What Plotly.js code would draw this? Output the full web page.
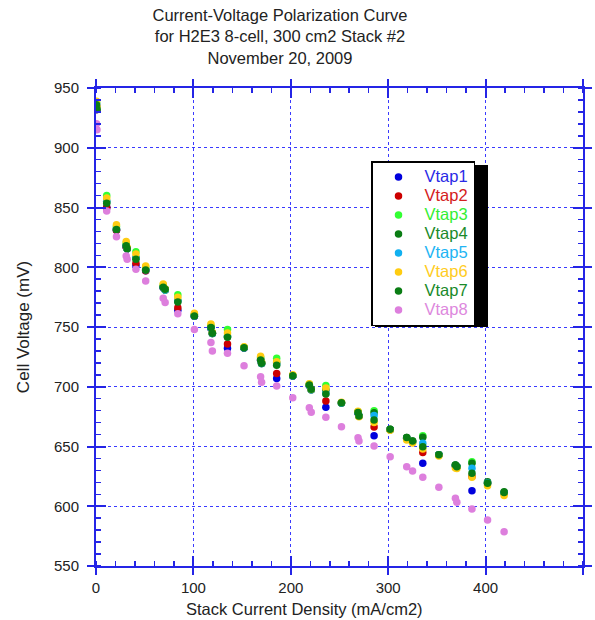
<!DOCTYPE html>
<html>
<head>
<meta charset="utf-8">
<script src="https://cdn.plot.ly/plotly-3.0.1.min.js"></script>
<style>html,body{margin:0;padding:0;background:#fff;}#chart{width:595px;height:620px;}</style>
</head>
<body>
<div id="chart"></div>
<script>
// Stack current density (mA/cm2)
const currentDensity = [0.5, 1, 11, 21, 31, 32, 41, 51, 69, 71, 84, 101, 118, 119.5, 135, 152, 169, 170, 185.5, 202, 219, 221, 236, 252, 269, 270, 285.5, 302, 319, 325, 335.5, 352, 369, 370.5, 386, 402, 419];

// Cell voltages (mV)
const vtap1 = [935, 932, 850, 831, 817, 815.5, 801.5, 797, 783, 781, 764, 759, 749, 744.5, 732.2, 732.5, 722, 719.5, 707, 709, 701, 697.5, 682.8, 686.5, 678, 675.5, 659, 664, 657, 654, 636, 643, 634, 633, 613, 619.5, 611];
const vtap2 = [935, 932, 850, 831, 817, 815.5, 803.3, 797, 783, 781, 766.2, 759, 749, 744.5, 735.8, 732.5, 722, 719.5, 711, 709, 701, 697.5, 688, 686.5, 678, 675.5, 666.3, 664, 657, 654, 645, 643, 634, 633, 625, 619.5, 611];
const vtap3 = [938, 933, 860, 834, 820, 815.5, 813, 800, 785, 781, 777, 760.5, 751, 744.5, 748, 733, 724.5, 719.5, 723.8, 709.5, 702, 697.5, 701, 686.5, 679, 675.5, 680, 664, 657, 654, 659, 643, 634, 633, 637.3, 619.5, 611];
const vtap4 = [937, 933, 855, 832, 818, 816, 808, 798, 783.5, 781.5, 772, 760, 750, 745, 742, 732.7, 723, 720, 720, 709.3, 701.5, 698, 697.3, 686.7, 678.6, 675.5, 678.3, 664.4, 657.5, 654.6, 657.7, 643, 634.5, 633, 636, 620.6, 612.2];
const vtap5 = [936, 933, 855, 832, 818, 815.5, 808, 798, 783, 781, 772, 759, 749, 744.5, 742, 732.5, 722, 719.5, 719, 709, 701, 697.5, 694.5, 686.5, 678, 675.5, 676, 664, 657, 654, 652.7, 643, 634, 633, 631.8, 619.5, 611];
const vtap6 = [939, 934, 858, 835.5, 821.5, 816.5, 811, 801, 786, 782, 775, 761.5, 752.5, 745.5, 745, 733.5, 725.5, 720.5, 721, 710, 702.5, 698, 699, 687, 679.5, 675, 670, 663.5, 655.5, 653, 648, 642, 632, 631.5, 624.2, 617.2, 609];
const vtap7 = [936, 932, 853.5, 831.5, 818, 815.5, 806.6, 797.7, 783.2, 781.5, 771, 759.2, 749.5, 744.8, 741.5, 732.7, 722.4, 719.6, 718, 709.3, 701.5, 697.9, 694, 686.7, 678.4, 675.5, 672.2, 664.4, 657.5, 654.6, 649.8, 643, 634.5, 633, 627.6, 619.2, 611.5];
const vtap8 = [920, 915, 847, 825.5, 809.5, 806.7, 798.3, 788.5, 774, 770.4, 761, 748, 737, 730, 728, 717.6, 708.4, 703.7, 700.6, 690.8, 682.5, 678.6, 674.4, 666.6, 657.3, 654.6, 650.4, 641.5, 633, 629.5, 624.2, 615.8, 606.7, 603.3, 597.7, 588.5, 578.7];

const seriesNames = ['Vtap1', 'Vtap2', 'Vtap3', 'Vtap4', 'Vtap5', 'Vtap6', 'Vtap7', 'Vtap8'];
const seriesValues = [vtap1, vtap2, vtap3, vtap4, vtap5, vtap6, vtap7, vtap8];
const markerColors = ['#0000dd', '#cc0000', '#33ff33', '#0a7d14', '#11b0f0', '#ffcc11', '#0a7d14', '#dd7fdd'];
const textColors = ['#2a2ae6', '#d42020', '#33ee33', '#1a8a2a', '#22b4f4', '#ffcc22', '#1a8a2a', '#dd88dd'];

const FONT = 'Liberation Sans, Arial, sans-serif';
const AX = '#2525e6';

const traces = seriesNames.map((n, i) => ({
  type: 'scatter',
  mode: 'markers',
  x: currentDensity,
  y: seriesValues[i],
  name: '<span style="color:' + textColors[i] + ';font-size:16.5px">' + n + '</span>',
  marker: {color: markerColors[i], size: 7.5},
  hoverinfo: 'x+y'
}));
// helper empty trace so the overlay axes (inner tick halves) are drawn
traces.push({type: 'scatter', mode: 'markers', x: [], y: [], xaxis: 'x2', yaxis: 'y2', showlegend: false, hoverinfo: 'skip'});

const W = 595, H = 620, L = 96, R = 12, T = 88, B = 54;
const pw = W - L - R, ph = H - T - B;
const px = v => (v - L) / pw;
const py = v => (H - B - v) / ph;

const layout = {
  width: W, height: H,
  margin: {l: L, r: R, t: T, b: B},
  paper_bgcolor: '#ffffff',
  plot_bgcolor: '#ffffff',
  font: {family: FONT, size: 15, color: '#222'},
  showlegend: true,
  title: {
    text: 'Current-Voltage Polarization Curve<br>for H2E3 8-cell, 300 cm2 Stack #2<br>November 20, 2009',
    x: 280 / W, xanchor: 'center', xref: 'container',
    y: 1 - 21 / H, yanchor: 'top', yref: 'container',
    font: {family: FONT, size: 16.5, color: '#222'}
  },
  xaxis: {
    range: [0, 500], tick0: 0, dtick: 100,
    showline: true, linecolor: AX, linewidth: 2, mirror: 'allticks',
    ticks: 'outside', ticklen: 7, tickwidth: 2, tickcolor: AX,
    showgrid: true, gridcolor: '#3a3aff', griddash: 'dot', gridwidth: 1,
    zeroline: false,
    minor: {dtick: 20, tick0: 0, ticks: 'inside', ticklen: 5, tickwidth: 1.5, tickcolor: AX, showgrid: false},
    tickfont: {family: FONT, size: 15, color: '#222'},
    ticklabelstandoff: 0,
    title: {text: ''}
  },
  yaxis: {
    range: [550, 950], tick0: 550, dtick: 50,
    showline: true, linecolor: AX, linewidth: 2, mirror: 'allticks',
    ticks: 'outside', ticklen: 7, tickwidth: 2, tickcolor: AX,
    showgrid: true, gridcolor: '#3a3aff', griddash: 'dot', gridwidth: 1,
    zeroline: false,
    minor: {dtick: 10, tick0: 550, ticks: 'inside', ticklen: 5, tickwidth: 1.5, tickcolor: AX, showgrid: false},
    tickfont: {family: FONT, size: 15, color: '#222'},
    ticklabelstandoff: 5,
    title: {text: 'Cell Voltage (mV)', font: {family: FONT, size: 17, color: '#222'}, standoff: 20}
  },
  xaxis2: {
    overlaying: 'x', anchor: 'y', range: [0, 500], tick0: 0, dtick: 100,
    ticks: 'inside', ticklen: 10, tickwidth: 2, tickcolor: AX, mirror: 'allticks',
    showline: false, showgrid: false, zeroline: false, showticklabels: false
  },
  yaxis2: {
    overlaying: 'y', anchor: 'x', range: [550, 950], tick0: 550, dtick: 50,
    ticks: 'inside', ticklen: 10, tickwidth: 2, tickcolor: AX, mirror: 'allticks',
    showline: false, showgrid: false, zeroline: false, showticklabels: false
  },
  legend: {
    x: px(371), y: py(161), xanchor: 'left', yanchor: 'top',
    bgcolor: '#ffffff', bordercolor: '#000000', borderwidth: 1.5,
    font: {family: FONT, size: 12},
    itemwidth: 42,
    tracegroupgap: 0
  },
  shapes: [{
    type: 'rect', xref: 'paper', yref: 'paper',
    x0: px(375), x1: px(488), y0: py(327), y1: py(165),
    fillcolor: '#000000', line: {width: 0}, layer: 'above'
  }],
  annotations: [{
    text: 'Stack Current Density (mA/cm2)', xref: 'paper', yref: 'paper',
    x: px(304), y: py(609), xanchor: 'center', yanchor: 'middle', showarrow: false,
    font: {family: FONT, size: 16.5, color: '#222'}
  }]
};

Plotly.newPlot('chart', traces, layout, {displayModeBar: false, staticPlot: true});
</script>
</body>
</html>
